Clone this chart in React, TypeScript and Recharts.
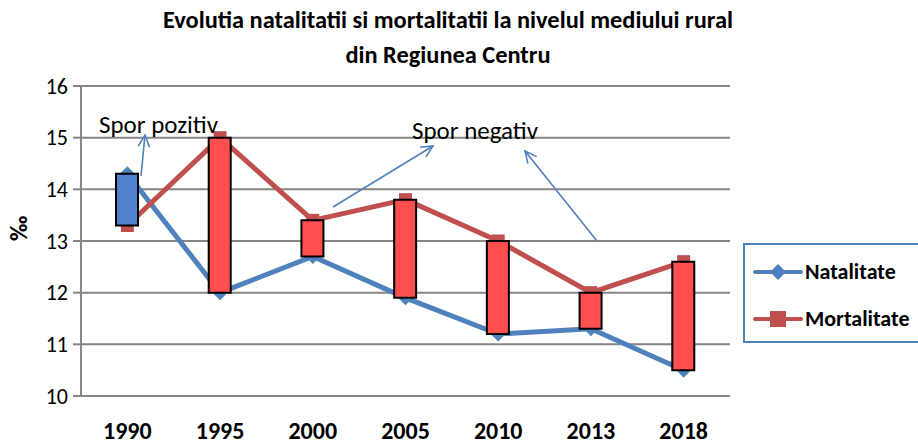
import React from "react";
import {
  ComposedChart,
  Line,
  Bar,
  Cell,
  XAxis,
  YAxis,
  CartesianGrid,
  Label,
} from "recharts";

const YEARS = ["1990", "1995", "2000", "2005", "2010", "2013", "2018"];
const NATALITATE = [14.3, 12.0, 12.7, 11.9, 11.2, 11.3, 10.5];
const MORTALITATE = [13.3, 15.0, 13.4, 13.8, 13.0, 12.0, 12.6];
const Y_TICKS = [10, 11, 12, 13, 14, 15, 16];

const BLUE = "#4f81bd";
const RED = "#c0504d";
const AXIS = "#868686";
const FONT = "Calibri, Carlito, Lato, sans-serif";

// plot area: x 81..730, y 86..396
const TOP = 86;
const RIGHT = 188;
const BOTTOM = 51;
const X_HEIGHT = 30;
const Y_WIDTH = 81;

const chartData = YEARS.map((year, i) => ({
  year,
  natalitate: NATALITATE[i],
  mortalitate: MORTALITATE[i],
  spor: [Math.min(NATALITATE[i], MORTALITATE[i]), Math.max(NATALITATE[i], MORTALITATE[i])],
}));

function Diamond(props: any) {
  const { cx, cy } = props;
  if (cx == null || cy == null) return null;
  const r = 7.5;
  return (
    <path
      d={`M${cx},${cy - r} L${cx + r},${cy} L${cx},${cy + r} L${cx - r},${cy} Z`}
      fill={BLUE}
    />
  );
}

function Square(props: any) {
  const { cx, cy } = props;
  if (cx == null || cy == null) return null;
  const r = 6.5;
  return <rect x={cx - r} y={cy - r} width={r * 2} height={r * 2} fill={RED} />;
}

function LegendBox() {
  const items = [
    { name: "Natalitate", color: BLUE, marker: "diamond" },
    { name: "Mortalitate", color: RED, marker: "square" },
  ];
  return (
    <div
      style={{
        position: "absolute",
        left: 743,
        top: 243,
        border: `2px solid ${BLUE}`,
        width: 182,
        height: 100,
        boxSizing: "border-box",
        padding: "3px 0 0 7px",
        background: "#fff",
      }}
    >
      {items.map((it) => (
        <div key={it.name} style={{ display: "flex", alignItems: "center", height: 47 }}>
          <svg width={52} height={20}>
            <line x1={3} y1={10} x2={49} y2={10} stroke={it.color} strokeWidth={4} strokeLinecap="round" />
            {it.marker === "diamond" ? (
              <path d="M26,2 L34,10 L26,18 L18,10 Z" fill={it.color} />
            ) : (
              <rect x={18} y={2} width={16} height={16} fill={it.color} />
            )}
          </svg>
          <span
            style={{
              fontFamily: FONT,
              fontWeight: 700,
              fontSize: 22,
              color: "#000",
              marginLeft: 1,
              whiteSpace: "nowrap",
            }}
          >
            {it.name}
          </span>
        </div>
      ))}
    </div>
  );
}

function Arrow({ x1, y1, x2, y2 }: { x1: number; y1: number; x2: number; y2: number }) {
  const a = Math.atan2(y2 - y1, x2 - x1);
  const h = 13;
  const s = 0.45;
  const p1 = [x2 - h * Math.cos(a - s), y2 - h * Math.sin(a - s)];
  const p2 = [x2 - h * Math.cos(a + s), y2 - h * Math.sin(a + s)];
  return (
    <g stroke={BLUE} strokeWidth={1.6} fill="none">
      <line x1={x1} y1={y1} x2={x2} y2={y2} />
      <polyline points={`${p1[0]},${p1[1]} ${x2},${y2} ${p2[0]},${p2[1]}`} />
    </g>
  );
}

export default function App() {
  return (
    <div style={{ position: "fixed", left: 0, top: 0, width: 918, height: 447, background: "#fff" }}>
      <div
        style={{
          position: "absolute",
          left: 0,
          top: 3,
          width: 918,
          textAlign: "center",
          fontFamily: FONT,
          fontWeight: 700,
          fontSize: 24.4,
          lineHeight: "35px",
          color: "#000",
          paddingRight: 22,
          boxSizing: "border-box",
          whiteSpace: "nowrap",
        }}
      >
        Evolutia natalitatii si mortalitatii la nivelul mediului rural
        <br />
        din Regiunea Centru
      </div>
      {/* axes, grid and the two lines */}
      <ComposedChart
        width={918}
        height={447}
        data={chartData}
        margin={{ top: TOP, right: RIGHT, bottom: BOTTOM - X_HEIGHT, left: 0 }}
        style={{ position: "absolute", left: 0, top: 0 }}
      >
        <CartesianGrid vertical={false} stroke={AXIS} strokeWidth={2} />
        <XAxis
          dataKey="year"
          height={X_HEIGHT}
          axisLine={{ stroke: AXIS, strokeWidth: 2 }}
          tickLine={false}
          tickSize={0}
          tickMargin={26}
          tick={{ fill: "#000", fontSize: 24, fontWeight: 700, fontFamily: FONT }}
        />
        <YAxis
          domain={[10, 16]}
          ticks={Y_TICKS}
          width={Y_WIDTH}
          axisLine={{ stroke: AXIS, strokeWidth: 2 }}
          tickLine={{ stroke: AXIS, strokeWidth: 2 }}
          tickSize={8}
          tickMargin={5}
          tick={{ fill: "#000", fontSize: 22, fontFamily: FONT }}
        >
          <Label
            value="‰"
            angle={-90}
            position="insideLeft"
            offset={18}
            style={{ fill: "#000", fontSize: 24, fontWeight: 700, fontFamily: FONT }}
          />
        </YAxis>
        {/* invisible copy of the up/down bars, keeps the band layout of the category axis */}
        <Bar dataKey="spor" barSize={22} fill="none" isAnimationActive={false} />
        <Line
          dataKey="natalitate"
          name="Natalitate"
          stroke={BLUE}
          strokeWidth={5}
          dot={<Diamond />}
          activeDot={false}
          isAnimationActive={false}
        />
        <Line
          dataKey="mortalitate"
          name="Mortalitate"
          stroke={RED}
          strokeWidth={5}
          dot={<Square />}
          activeDot={false}
          isAnimationActive={false}
        />
      </ComposedChart>
      {/* up/down bars drawn on top of the lines */}
      <ComposedChart
        width={918}
        height={447}
        data={chartData}
        margin={{ top: TOP, right: RIGHT, bottom: BOTTOM, left: Y_WIDTH }}
        style={{ position: "absolute", left: 0, top: 0 }}
      >
        <XAxis dataKey="year" hide />
        <YAxis domain={[10, 16]} ticks={Y_TICKS} allowDataOverflow hide />
        <Bar
          dataKey="spor"
          barSize={22}
          stroke="#000"
          strokeWidth={2}
          isAnimationActive={false}
        >
          {chartData.map((d, i) => (
            <Cell key={`spor-${i}`} fill={d.natalitate > d.mortalitate ? "#4f81d0" : "#ff4f4f"} />
          ))}
        </Bar>
      </ComposedChart>
      <svg
        width={918}
        height={447}
        style={{ position: "absolute", left: 0, top: 0, pointerEvents: "none" }}
      >
        <text x={99} y={133} fontFamily={FONT} fontSize={25} fill="#000">
          Spor pozitiv
        </text>
        <text x={412} y={139} fontFamily={FONT} fontSize={25} fill="#000">
          Spor negativ
        </text>
        <Arrow x1={141} y1={176} x2={145} y2={135} />
        <Arrow x1={333} y1={207} x2={433} y2={146} />
        <Arrow x1={597} y1={241} x2={525} y2={151} />
      </svg>
      <LegendBox />
    </div>
  );
}
